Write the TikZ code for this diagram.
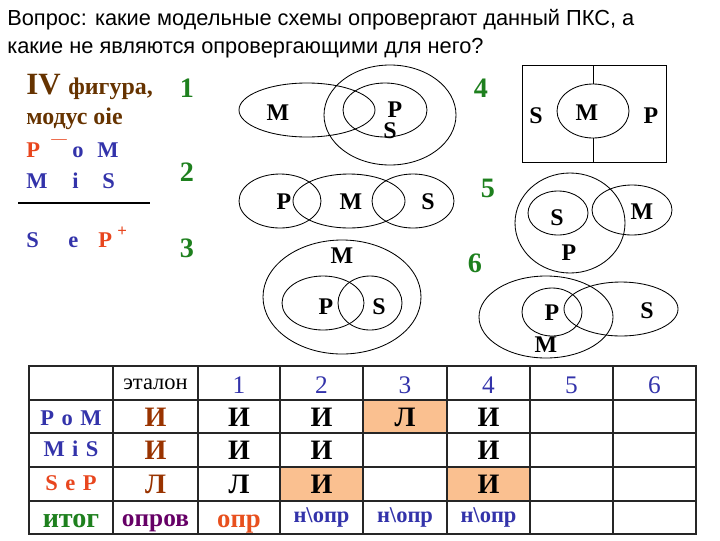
\documentclass[tikz,border=0pt]{standalone}
\usepackage{fontspec}
\setmainfont{Liberation Serif}
\newfontfamily\titlefont{Liberation Sans}
\usetikzlibrary{positioning}
\definecolor{headbrown}{RGB}{102,51,0}
\definecolor{termred}{RGB}{232,70,30}
\definecolor{termblue}{RGB}{51,51,170}
\definecolor{numgreen}{RGB}{30,128,30}
\definecolor{truebrown}{RGB}{153,51,0}
\definecolor{resultpurple}{RGB}{102,0,102}
\definecolor{resultorange}{RGB}{232,80,30}
\definecolor{cellorange}{RGB}{250,192,144}
\newcommand{\fsz}[1]{\fontsize{#1}{#1}\selectfont}

\begin{document}
\begin{tikzpicture}[
        x=0.025cm, y=-0.025cm,
        venn/.style={draw, line width=0.6pt},
        lbl/.style={font=\fsz{17}\bfseries, inner sep=0pt},
        num/.style={font=\fsz{20}\bfseries, text=numgreen, inner sep=0pt},
        premise/.style={font=\fsz{16}\bfseries, inner sep=0pt, anchor=base west},
        grid/.style={line width=0.8pt, black!85},
        colnum/.style={font=\fsz{18}, text=termblue, inner sep=0pt, anchor=base},
        tv/.style={font=\fsz{20}\bfseries, inner sep=0pt, anchor=base},
        rowlbl/.style={font=\fsz{16}\bfseries, inner sep=0pt, anchor=base}
    ]
        \useasboundingbox (0,0) rectangle (720,540);

        % Question
        \node[font=\titlefont\fsz{15.5}, inner sep=0pt, anchor=base west] (q1) at (7,25) {Вопрос: какие модельные схемы опровергают данный ПКС, а};
        \node[font=\titlefont\fsz{15.5}, inner sep=0pt, anchor=base west] (q2) at (7,53) {какие не являются опровергающими для него?};

        % Figure and mood
        \node[font=\fsz{22}\bfseries, text=headbrown, inner sep=0pt, anchor=base west] (fig) at (26,94) {IV {\fsz{17}фигура,}};
        \node[font=\fsz{17}\bfseries, text=headbrown, inner sep=0pt, anchor=base west] (mod) at (26,124) {модус oie};
        \node[premise, text=termred] (p1P) at (26,157) {P};
        \node[premise, text=termred, font=\fsz{11}] (p1d) at (51,143) {—};
        \node[premise, text=termblue] (p1o) at (72,157) {o};
        \node[premise, text=termblue] (p1M) at (97,157) {M};
        \node[premise, text=termblue] (p2M) at (26,188) {M};
        \node[premise, text=termblue] (p2i) at (72,188) {i};
        \node[premise, text=termblue] (p2S) at (102,188) {S};
        \draw[line width=1.6pt] (18,203) -- (150,203);
        \node[premise, text=termblue] (cS) at (26,247) {S};
        \node[premise, text=termblue] (ce) at (68,247) {e};
        \node[premise, text=termred] (cP) at (98,247) {P};
        \node[premise, text=termred, font=\fsz{12}\bfseries] (cplus) at (117,236) {+};

        % Scheme numbers
        \node[num] (n1) at (187,88) {1};
        \node[num] (n2) at (187,172) {2};
        \node[num] (n3) at (187,248) {3};
        \node[num] (n4) at (481,88) {4};
        \node[num] (n5) at (488,188) {5};
        \node[num] (n6) at (475,263) {6};

        % Scheme 1
        \draw[venn] (307,110) ellipse [x radius=68, y radius=27];
        \draw[venn] (390,115) ellipse [x radius=66, y radius=50];
        \draw[venn] (385,110) ellipse [x radius=42, y radius=27];
        \node[lbl] (s1M) at (278,113) {M};
        \node[lbl] (s1P) at (395,110) {P};
        \node[lbl] (s1S) at (390,131) {S};

        % Scheme 2
        \draw[venn] (280,201) ellipse [x radius=41, y radius=27];
        \draw[venn] (349,201) ellipse [x radius=56, y radius=27];
        \draw[venn] (413,201) ellipse [x radius=41, y radius=27];
        \node[lbl] (s2P) at (284,202) {P};
        \node[lbl] (s2M) at (351,202) {M};
        \node[lbl] (s2S) at (428,202) {S};

        % Scheme 3
        \draw[venn] (342,297) ellipse [x radius=79, y radius=57];
        \draw[venn] (323,303) ellipse [x radius=41, y radius=27];
        \draw[venn] (370,303) ellipse [x radius=32, y radius=27];
        \node[lbl] (s3M) at (342,256) {M};
        \node[lbl] (s3P) at (326,307) {P};
        \node[lbl] (s3S) at (379,307) {S};

        % Scheme 4
        \draw[venn] (522,65) rectangle (666,162);
        \draw[venn] (593,111) ellipse [x radius=36, y radius=27];
        \draw[venn] (593,65) -- (593,84);
        \draw[venn] (593,138) -- (593,162);
        \node[lbl] (s4S) at (536,116) {S};
        \node[lbl] (s4M) at (587,113) {M};
        \node[lbl] (s4P) at (651,116) {P};

        % Scheme 5
        \draw[venn] (570,223) ellipse [x radius=55, y radius=50];
        \draw[venn] (558,213) ellipse [x radius=30, y radius=22];
        \draw[venn] (632,210) ellipse [x radius=40, y radius=25];
        \node[lbl] (s5S) at (557,218) {S};
        \node[lbl] (s5M) at (642,212) {M};
        \node[lbl] (s5P) at (569,253) {P};

        % Scheme 6
        \draw[venn] (546,317) ellipse [x radius=67, y radius=41];
        \draw[venn] (552,312) ellipse [x radius=30, y radius=24];
        \draw[venn] (621,309) ellipse [x radius=57, y radius=27];
        \node[lbl] (s6P) at (552,313) {P};
        \node[lbl] (s6S) at (647,311) {S};
        \node[lbl] (s6M) at (546,345) {M};

        % Table
        \fill[cellorange] (363,400) rectangle (447,433);
        \fill[cellorange] (280,467) rectangle (363,501);
        \fill[cellorange] (447,467) rectangle (530,501);
        \foreach \x in {113,198,280,363,447,530,613}
            \draw[grid] (\x,366) -- (\x,534);
        \foreach \y in {400,433,467,501}
            \draw[grid] (29,\y) -- (696,\y);
        \draw[line width=1.6pt, black!85] (29,366) rectangle (696,534);

        % Header row
        \node[font=\fsz{16}, inner sep=0pt, anchor=base] (etalon) at (155.5,389) {эталон};
        \foreach \n/\x in {1/239, 2/321.5, 3/405, 4/488.5, 5/571.5, 6/654.5}
            \node[colnum] (h\n) at (\x,393) {\n};

        % Row labels
        \node[rowlbl, text=termblue] (rPoM) at (71,425) {P\,\,o\,\,M};
        \node[rowlbl, text=termblue] (rMiS) at (71,456) {M\,\,i\,\,S};
        \node[rowlbl, text=termred] (rSeP) at (71,490) {S\,\,e\,\,P};
        \node[rowlbl, text=numgreen, font=\fsz{20}\bfseries] (rres) at (71,527) {итог};

        % Truth values
        \node[tv, text=truebrown] (e1) at (155.5,426) {И};
        \node[tv, text=truebrown] (e2) at (155.5,459) {И};
        \node[tv, text=truebrown] (e3) at (155.5,493) {Л};
        \node[tv] (a1) at (239,426) {И};
        \node[tv] (a2) at (239,459) {И};
        \node[tv] (a3) at (239,493) {Л};
        \node[tv] (b1) at (321.5,426) {И};
        \node[tv] (b2) at (321.5,459) {И};
        \node[tv] (b3) at (321.5,493) {И};
        \node[tv] (c1) at (405,426) {Л};
        \node[tv] (d1) at (488.5,426) {И};
        \node[tv] (d2) at (488.5,459) {И};
        \node[tv] (d3) at (488.5,493) {И};

        % Results
        \node[tv, text=resultpurple, font=\fsz{18}\bfseries] (eres) at (155.5,526) {опров};
        \node[tv, text=resultorange, font=\fsz{19}\bfseries] (ares) at (239,527) {опр};
        \node[tv, text=termblue, font=\fsz{16}\bfseries] (bres) at (321.5,522) {н\textbackslash опр};
        \node[tv, text=termblue, font=\fsz{16}\bfseries] (cres) at (405,522) {н\textbackslash опр};
        \node[tv, text=termblue, font=\fsz{16}\bfseries] (dres) at (488.5,522) {н\textbackslash опр};
    \end{tikzpicture}
\end{document}
